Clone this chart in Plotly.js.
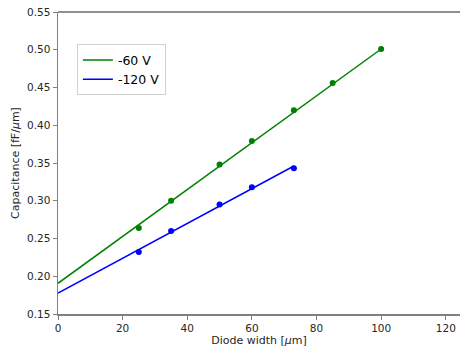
<!DOCTYPE html>
<html><head><meta charset="utf-8">
<script src="https://cdn.plot.ly/plotly-3.0.1.min.js"></script>
<style>body{margin:0;padding:0;background:#fff}#plot{width:460px;height:347px}</style>
</head><body><div id="plot"></div>
<script>
// Measured points
const widths60 = [25, 35, 50, 60, 73, 85, 100];
const cap60 = [0.264, 0.300, 0.348, 0.379, 0.420, 0.456, 0.501];
const widths120 = [25, 35, 50, 60, 73];
const cap120 = [0.232, 0.260, 0.295, 0.318, 0.343];
// Fit lines
const fitX60 = [0, 100];
const fitY60 = [0.1907, 0.501];
const fitX120 = [0, 73];
const fitY120 = [0.1778, 0.346];
const names = ['-60 V', '-120 V'];
const xTicks = [0, 20, 40, 60, 80, 100, 120];
const yTicks = [0.15, 0.20, 0.25, 0.30, 0.35, 0.40, 0.45, 0.50, 0.55];

const green = '#008000', blue = '#0000ff';
const traces = [
  {x: fitX60, y: fitY60, mode: 'lines', name: names[0], line: {color: green, width: 1.5}},
  {x: fitX120, y: fitY120, mode: 'lines', name: names[1], line: {color: blue, width: 1.5}},
  {x: widths60, y: cap60, mode: 'markers', showlegend: false, marker: {color: green, size: 6}},
  {x: widths120, y: cap120, mode: 'markers', showlegend: false, marker: {color: blue, size: 6}}
];
const tickFont = {family: 'DejaVu Sans', size: 10.5, color: '#262626'};
const titleFont = {family: 'DejaVu Sans', size: 11, color: '#262626'};
const layout = {
  width: 460, height: 347,
  margin: {l: 58, r: 0, t: 12, b: 33},
  paper_bgcolor: '#fff', plot_bgcolor: '#fff',
  font: {family: 'DejaVu Sans', size: 10, color: '#262626'},
  xaxis: {
    range: [0, 124.4], tickvals: xTicks, ticktext: xTicks.map(String),
    showgrid: false, zeroline: false, showline: true, linecolor: '#808080', linewidth: 1.5,
    ticks: 'outside', ticklen: 4, tickcolor: '#808080', tickfont: tickFont,
    title: {text: 'Diode width [<i>μ</i>m]', font: titleFont, standoff: 3}
  },
  yaxis: {
    range: [0.15, 0.55], tickvals: yTicks, ticktext: yTicks.map(v => v.toFixed(2)),
    showgrid: false, zeroline: false, showline: true, linecolor: '#808080', linewidth: 1.5,
    ticks: 'outside', ticklen: 4, tickcolor: '#808080', tickfont: tickFont,
    title: {text: 'Capacitance [fF/<i>μ</i>m]', font: titleFont, standoff: 5}
  },
  shapes: [{type: 'line', xref: 'paper', yref: 'paper', x0: 0, x1: 1, y0: 1, y1: 1, line: {color: '#222', width: 1.2}}],
  legend: {
    x: 0.047, y: 0.893, xanchor: 'left', yanchor: 'top',
    bgcolor: '#fff', bordercolor: '#d0d0d0', borderwidth: 1,
    font: {family: 'DejaVu Sans', size: 12.5, color: '#000'},
    tracegroupgap: 0
  },
  showlegend: true
};
Plotly.newPlot('plot', traces, layout, {displayModeBar: false, staticPlot: true});
</script></body></html>
